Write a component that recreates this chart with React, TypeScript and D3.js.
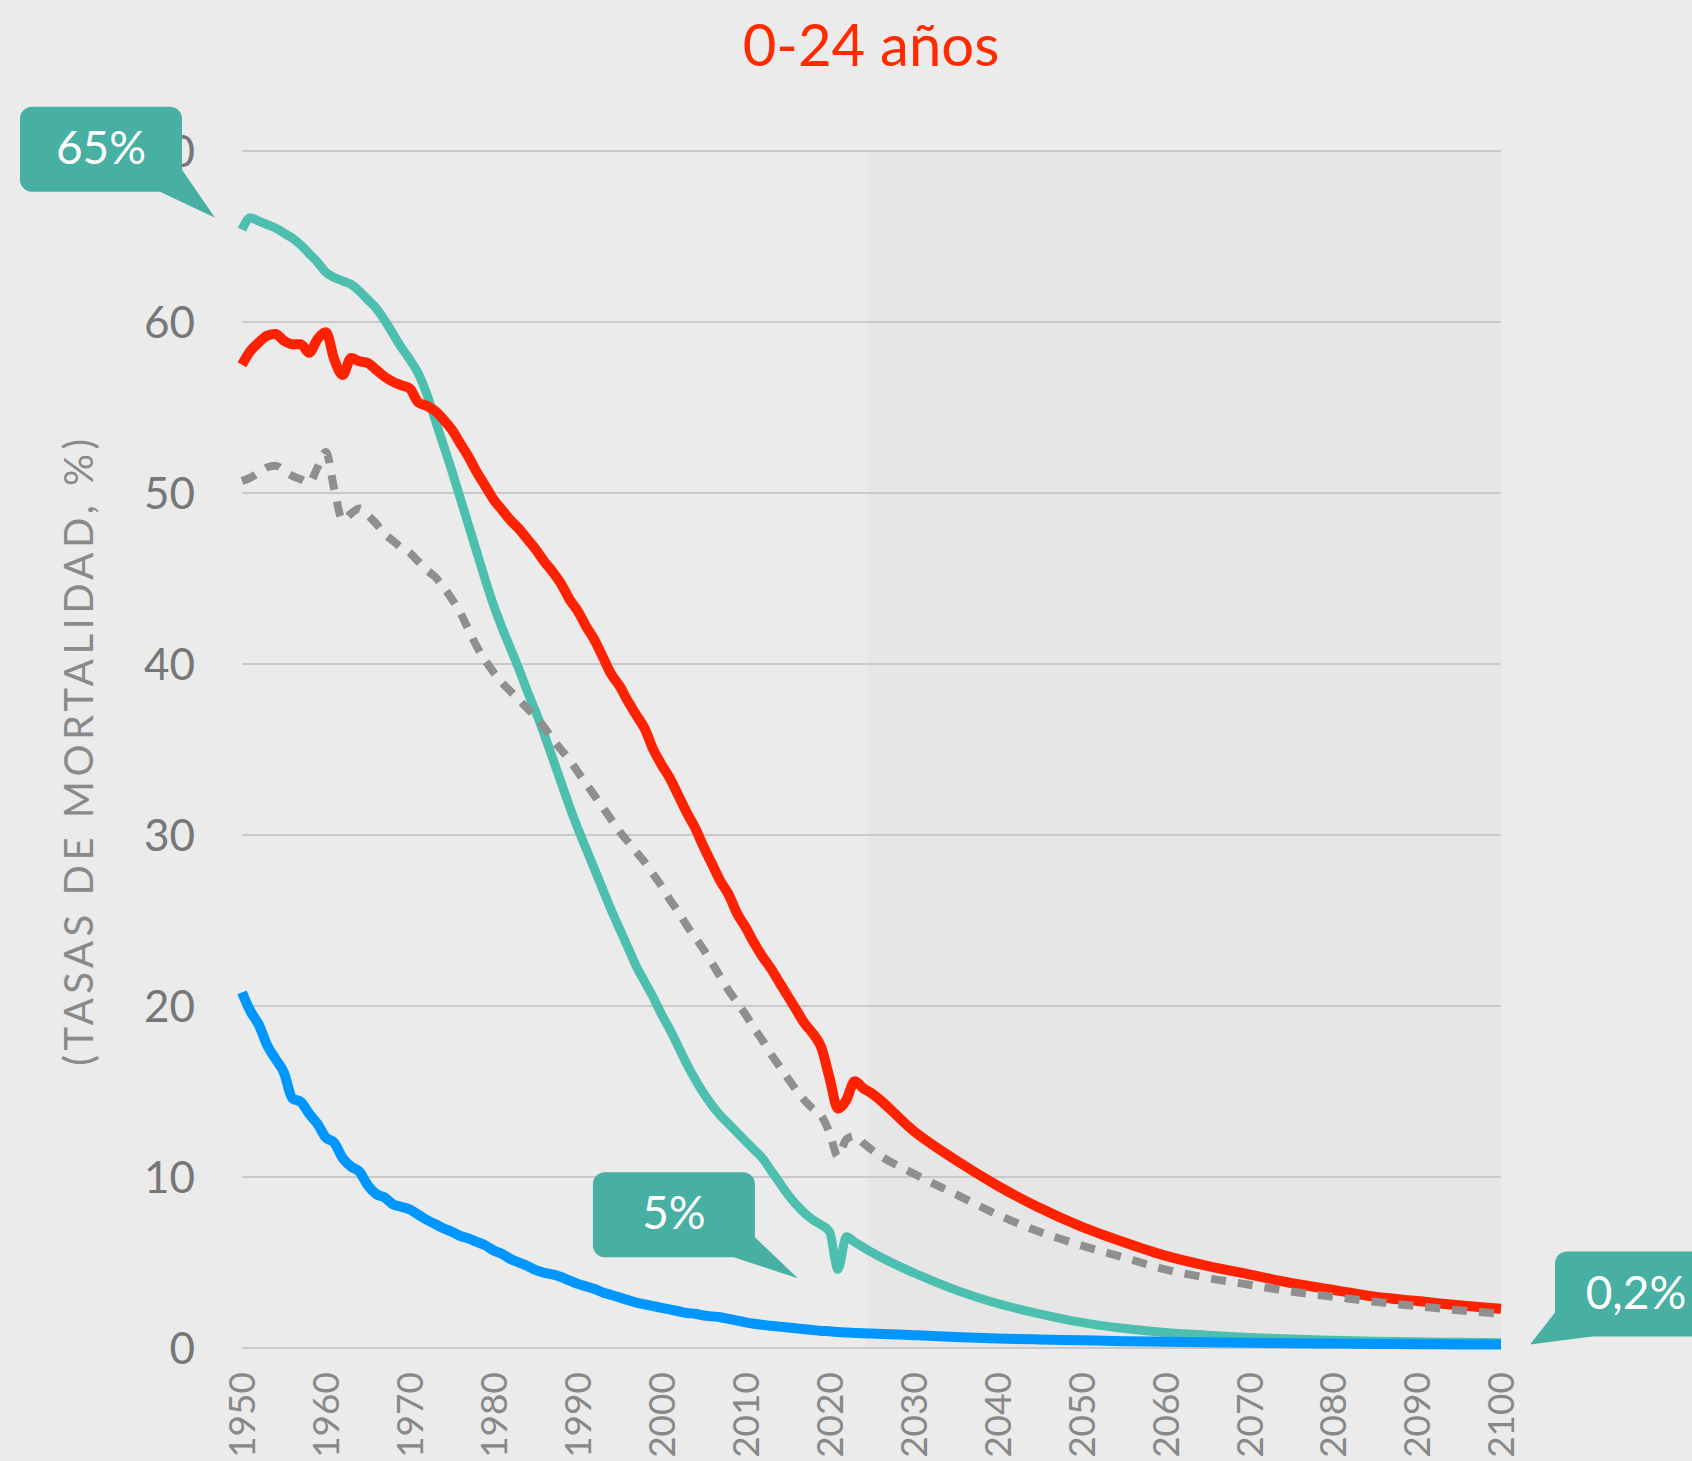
import React, { useRef, useEffect } from 'react';
import * as d3 from 'd3';

// years: yearly to 2025, then every 5 years (projection)
const years = d3.range(1950, 2026).concat(d3.range(2030, 2101, 5));

const teal = [
  65.4, 66.1, 65.9, 65.7, 65.5, 65.2, 64.9, 64.5, 64.0, 63.5,
  62.9, 62.6, 62.4, 62.2, 61.8, 61.3, 60.8, 60.1, 59.3, 58.5,
  57.8, 57.0, 55.8, 54.3, 52.8, 51.3, 49.7, 48.1, 46.5, 44.9,
  43.4, 42.1, 40.9, 39.7, 38.4, 37.2, 35.9, 34.5, 33.1, 31.7,
  30.4, 29.2, 28.0, 26.8, 25.6, 24.5, 23.4, 22.3, 21.4, 20.5,
  19.5, 18.6, 17.6, 16.6, 15.7, 14.9, 14.2, 13.6, 13.1, 12.6,
  12.1, 11.6, 11.1, 10.4, 9.7, 9.0, 8.4, 7.9, 7.5, 7.2,
  6.8, 4.6, 6.5, 6.2, 5.9, 5.6,
  4.4, 3.4, 2.6, 2.0, 1.5, 1.15, 0.9, 0.75, 0.62, 0.52, 0.45, 0.4, 0.36, 0.33, 0.3,
];

const red = [
  57.5, 58.3, 58.8, 59.2, 59.3, 58.9, 58.7, 58.7, 58.2, 59.0,
  59.4, 57.8, 56.9, 57.9, 57.7, 57.6, 57.2, 56.8, 56.5, 56.3,
  56.1, 55.3, 55.1, 54.8, 54.3, 53.7, 52.9, 52.1, 51.2, 50.4,
  49.6, 49.0, 48.4, 47.9, 47.3, 46.7, 46.0, 45.4, 44.7, 43.8,
  43.1, 42.2, 41.4, 40.4, 39.4, 38.7, 37.8, 37.0, 36.2, 35.0,
  34.1, 33.3, 32.3, 31.3, 30.4, 29.3, 28.3, 27.3, 26.5, 25.4,
  24.6, 23.7, 22.9, 22.2, 21.4, 20.6, 19.8, 19.0, 18.4, 17.6,
  15.8, 14.0, 14.5, 15.6, 15.2, 14.9,
  12.7, 11.0, 9.5, 8.2, 7.1, 6.2, 5.4, 4.8, 4.3, 3.8, 3.4, 3.0, 2.75, 2.5, 2.3,
];

const gray = [
  50.7, 50.9, 51.2, 51.5, 51.6, 51.3, 51.0, 50.8, 50.6, 51.5,
  52.4, 50.2, 48.4, 48.8, 49.1, 48.7, 48.2, 47.6, 47.2, 46.8,
  46.5, 46.0, 45.5, 45.1, 44.5, 43.8, 43.0, 42.0, 41.0, 40.2,
  39.5, 38.9, 38.4, 37.9, 37.4, 36.9, 36.3, 35.6, 35.0, 34.4,
  33.7, 33.0, 32.3, 31.6, 30.9, 30.2, 29.6, 29.0, 28.4, 27.7,
  27.0, 26.2, 25.5, 24.7, 24.0, 23.3, 22.5, 21.7, 20.9, 20.2,
  19.5, 18.7, 18.0, 17.2, 16.5, 15.8, 15.1, 14.5, 14.0, 13.6,
  12.6, 11.2, 12.2, 12.4, 12.0, 11.6,
  10.2, 9.0, 7.8, 6.8, 6.0, 5.3, 4.6, 4.1, 3.7, 3.3, 3.0, 2.7, 2.45, 2.2, 2.0,
];

const blue = [
  20.8, 19.7, 18.9, 17.7, 16.9, 16.1, 14.6, 14.4, 13.7, 13.1,
  12.3, 12.0, 11.1, 10.6, 10.3, 9.5, 9.0, 8.8, 8.4, 8.25,
  8.1, 7.8, 7.5, 7.25, 7.0, 6.8, 6.55, 6.4, 6.2, 6.0,
  5.7, 5.5, 5.2, 5.0, 4.8, 4.55, 4.4, 4.3, 4.15, 3.95,
  3.75, 3.6, 3.45, 3.25, 3.1, 2.95, 2.8, 2.65, 2.55, 2.45,
  2.35, 2.25, 2.15, 2.05, 2.0, 1.9, 1.85, 1.8, 1.7, 1.6,
  1.5, 1.42, 1.36, 1.3, 1.25, 1.2, 1.15, 1.1, 1.05, 1.0,
  0.98, 0.93, 0.9, 0.88, 0.86, 0.85,
  0.75, 0.65, 0.56, 0.5, 0.45, 0.4, 0.37, 0.34, 0.31, 0.28, 0.26, 0.24, 0.22, 0.21, 0.2,
];

const yTicks = [0, 10, 20, 30, 40, 50, 60, 70];
const xTicks = d3.range(1950, 2101, 10);
const projectionStart = 2024.5;

const title = '0-24 años';
const yLabel = '(TASAS DE MORTALIDAD, %)';

// callouts: text, anchor (year, value) the tail points at
const callouts = [
  { text: '65%', year: 1950, value: 66.1, side: 'left-top' },
  { text: '5%', year: 2021, value: 4.6, side: 'left' },
  { text: '0,2%', year: 2100, value: 0.2, side: 'right' },
];

const W = 1692, H = 1461;
const FONT = 'Lato, "Open Sans", sans-serif';

const App = () => {
  const ref = useRef<SVGSVGElement>(null);

  useEffect(() => {
    const svg = d3.select(ref.current);
    svg.selectAll('*').remove();

    const x = d3.scaleLinear().domain([1950, 2100]).range([242, 1501]);
    const y = d3.scaleLinear().domain([0, 70]).range([1348, 151]);

    svg.append('rect').attr('width', W).attr('height', H).attr('fill', '#ebebeb');

    // projection shading
    svg.append('rect')
      .attr('x', x(projectionStart))
      .attr('y', y(70))
      .attr('width', x(2100) - x(projectionStart))
      .attr('height', y(0) - y(70))
      .attr('fill', '#e6e6e6');

    // grid
    svg.append('g')
      .selectAll('line')
      .data(yTicks)
      .enter()
      .append('line')
      .attr('x1', x(1950))
      .attr('x2', x(2100))
      .attr('y1', (d) => y(d))
      .attr('y2', (d) => y(d))
      .attr('stroke', '#c9c9c9')
      .attr('stroke-width', 2);

    // y tick labels
    svg.append('g')
      .selectAll('text')
      .data(yTicks)
      .enter()
      .append('text')
      .attr('x', 195)
      .attr('y', (d) => y(d))
      .attr('dy', '0.36em')
      .attr('text-anchor', 'end')
      .attr('font-family', FONT)
      .attr('font-size', 44)
      .attr('fill', '#777')
      .text((d) => d);

    // x tick labels
    svg.append('g')
      .selectAll('text')
      .data(xTicks)
      .enter()
      .append('text')
      .attr('transform', (d) => `translate(${x(d)},1372) rotate(-90)`)
      .attr('dy', '0.36em')
      .attr('text-anchor', 'end')
      .attr('font-family', FONT)
      .attr('font-size', 37)
      .attr('fill', '#888')
      .text((d) => d);

    // y axis title
    svg.append('text')
      .attr('transform', 'translate(79,750) rotate(-90)')
      .attr('dy', '0.36em')
      .attr('text-anchor', 'middle')
      .attr('font-family', FONT)
      .attr('font-size', 40)
      .attr('letter-spacing', 4.5)
      .attr('fill', '#8a8a8a')
      .text(yLabel);

    // chart title
    svg.append('text')
      .attr('x', 871)
      .attr('y', 66)
      .attr('text-anchor', 'middle')
      .attr('font-family', FONT)
      .attr('font-size', 58)
      .attr('fill', '#ff2a00')
      .text(title);

    const line = (vals) =>
      d3.line<number>()
        .x((d, i) => x(years[i]))
        .y((d) => y(d))
        .curve(d3.curveMonotoneX)(vals);

    const series = [
      { vals: teal, color: '#4dbfae', width: 9 },
      { vals: red, color: '#ff2200', width: 10 },
      { vals: gray, color: '#8f8f8f', width: 8, dash: '15 12' },
      { vals: blue, color: '#0096ff', width: 10 },
    ];

    series.forEach((s) => {
      svg.append('path')
        .attr('d', line(s.vals))
        .attr('fill', 'none')
        .attr('stroke', s.color)
        .attr('stroke-width', s.width)
        .attr('stroke-dasharray', s.dash || null);
    });

    // callouts
    const shapes = {
      'left-top': { dx: -27, dy: 0, box: [-195, -111], tail: [[-55, -26], [0, 0], [-33, -48]] },
      left: { dx: -40, dy: 9, box: [-205, -106], tail: [[-64, -21], [0, 0], [-43, -41]] },
      right: { dx: 29, dy: 0, box: [25, -93], tail: [[25, -32], [0, 0], [62, -8]] },
    };
    const bw = 162, bh = 85;

    callouts.forEach((c) => {
      const s = shapes[c.side];
      const tx = x(c.year) + s.dx;
      const ty = y(c.value) + s.dy;
      const g = svg.append('g').attr('transform', `translate(${tx},${ty})`);
      g.append('rect')
        .attr('x', s.box[0])
        .attr('y', s.box[1])
        .attr('width', bw)
        .attr('height', bh)
        .attr('rx', 12)
        .attr('fill', '#47b0a2');
      g.append('path')
        .attr('d', 'M' + s.tail.map((p) => p.join(',')).join('L') + 'Z')
        .attr('fill', '#47b0a2');
      g.append('text')
        .attr('x', s.box[0] + bw / 2)
        .attr('y', s.box[1] + 57)
        .attr('text-anchor', 'middle')
        .attr('font-family', FONT)
        .attr('font-size', 46)
        .attr('fill', '#fff')
        .text(c.text);
    });
  }, []);

  return (
    <svg
      ref={ref}
      width={W}
      height={H}
      style={{ position: 'absolute', left: 0, top: 0, display: 'block' }}
    ></svg>
  );
};

export default App;
